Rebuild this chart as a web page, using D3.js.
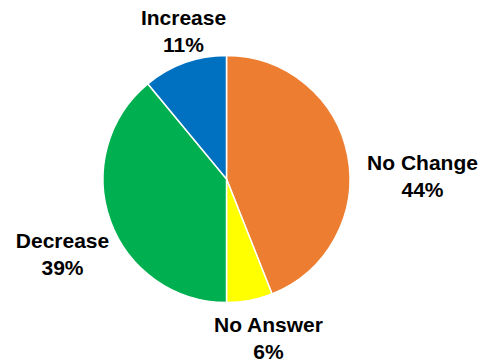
<!DOCTYPE html>
<html><head><meta charset="utf-8">
<script src="https://cdn.jsdelivr.net/npm/d3@7"></script>
<style>body{margin:0;background:#fff;}svg{display:block;}</style>
</head><body>
<script>
const categories = ["No Change", "No Answer", "Decrease", "Increase"];
const values = [44, 6, 39, 11];
const labels = ["44%", "6%", "39%", "11%"];
const colors = ["#ED7D31", "#FFFF00", "#00B050", "#0070C0"];

const W = 490, H = 360, cx = 226.5, cy = 179, R = 123.5;
// label centre positions (layout, not data)
const labelPos = [[422.5, 170], [268.5, 332], [62.5, 248], [183.5, 25]];

const svg = d3.select("body").append("svg").attr("width", W).attr("height", H);
const g = svg.append("g").attr("transform", `translate(${cx},${cy})`);
const pie = d3.pie().sort(null).value(d => d);
const arc = d3.arc().innerRadius(0).outerRadius(R);
const color = d3.scaleOrdinal().domain(categories).range(colors);

g.selectAll("path").data(pie(values)).join("path")
  .attr("d", arc)
  .attr("fill", (d, i) => color(categories[i]))
  .attr("stroke", "#fff").attr("stroke-width", 1.5);

const t = svg.selectAll("text.lbl").data(categories).join("text")
  .attr("class", "lbl")
  .attr("x", (d, i) => labelPos[i][0])
  .attr("y", (d, i) => labelPos[i][1])
  .attr("text-anchor", "middle")
  .attr("font-family", "'Liberation Sans', Arial, sans-serif")
  .attr("font-weight", "bold").attr("font-size", "21px").attr("fill", "#000");
t.append("tspan").attr("x", (d, i) => labelPos[i][0]).text(d => d);
t.append("tspan").attr("x", (d, i) => labelPos[i][0]).attr("dy", 27).text((d, i) => labels[i]);
</script>
</body></html>
